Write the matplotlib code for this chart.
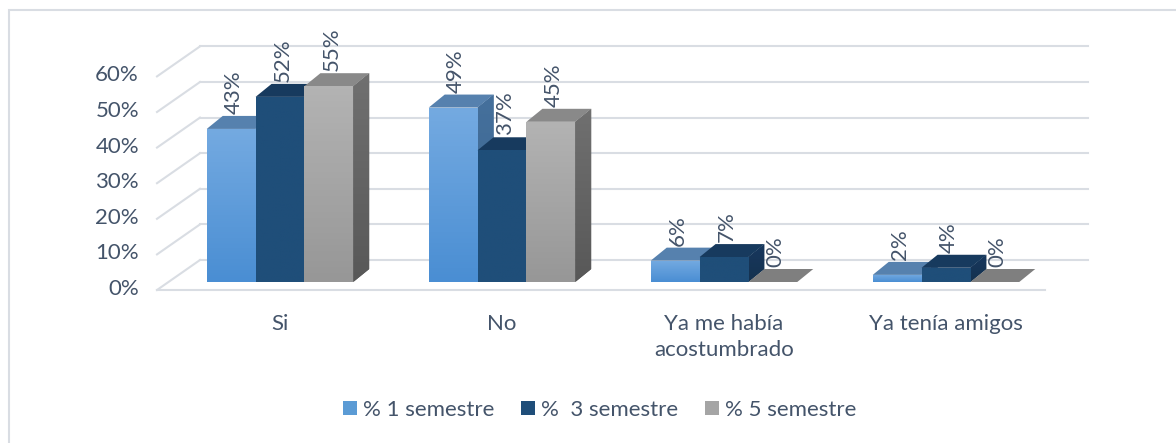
import numpy as np
import matplotlib.pyplot as plt
from matplotlib.patches import Polygon, Rectangle, Patch
from matplotlib.colors import LinearSegmentedColormap

plt.rcParams['font.family'] = ['Lato', 'DejaVu Sans']

categories = ["Si", "No", "Ya me había\nacostumbrado", "Ya tenía amigos"]
series = ["% 1 semestre", "%  3 semestre", "% 5 semestre"]
sem1 = [43, 49, 6, 2]
sem3 = [52, 37, 7, 4]
sem5 = [55, 45, 0, 0]
yticks = [0, 10, 20, 30, 40, 50, 60]

values = [sem1, sem3, sem5]

# colours per series: front gradient (top, bottom), top face, side gradient
styles = [
    dict(front=("#74aae1", "#4a8ed3"), top="#5681ae", side=("#45709c", "#3b6690"), legend="#5b9bd5"),
    dict(front=("#1f4e79", "#1f4e79"), top="#173a5e", side=("#17375e", "#15324f"), legend="#1f4e79"),
    dict(front=("#b3b3b3", "#979797"), top="#898989", side=("#707070", "#585858"), legend="#a5a5a5"),
]
TXT = "#44546a"
GRID = "#d9dde3"
FS = 16

# pixel geometry (figure is 1176 x 443)
W, H = 1176, 443
X0, Y0 = 280, 282          # centre of first group / baseline of bars, pixels
SX, SY = 222, 3.56         # pixels per category / per percent

def off(px, py):
    return px / SX, py / SY

bdx, bdy = off(16, 13)     # depth of a bar
fdx, fdy = off(-12, -8)    # front edge of the floor
kdx, kdy = off(31, 22)     # back wall

fig = plt.figure(figsize=(W / 100, H / 100), dpi=100)
ax = fig.add_axes([0, 0, 1, 1])

# gridlines on the back wall + slanted ones on the left
for t in yticks:
    ax.plot([-0.5 + kdx, 3.5 + kdx], [t + kdy, t + kdy], color=GRID, lw=1.5, zorder=1)
    ax.plot([-0.5 + fdx, -0.5 + kdx], [t + fdy, t + kdy], color=GRID, lw=1.5, zorder=1)
    ax.annotate(f"{t}%", (-0.5 + fdx, t + fdy), xytext=(-18, 1), textcoords="offset pixels",
                ha="right", va="center", fontsize=FS, color=TXT)
ax.plot([-0.5 + fdx, 3.5 + fdx], [fdy, fdy], color=GRID, lw=1.5, zorder=1)

width = 0.22
offsets = [-width, 0, width]
grad = np.linspace(0, 1, 64).reshape(-1, 1)

z = 3
for i in range(len(categories)):
    for s in range(len(series)):
        v = values[s][i]
        st = styles[s]
        x0 = i + offsets[s] - width / 2
        x1 = x0 + width
        # side face
        side = Polygon([(x1, 0), (x1 + bdx, bdy), (x1 + bdx, v + bdy), (x1, v)],
                       closed=True, facecolor=st["side"][1], edgecolor="none", zorder=z)
        ax.add_patch(side)
        if v > 0:
            cm = LinearSegmentedColormap.from_list("s", [st["side"][1], st["side"][0]])
            im = ax.imshow(grad, extent=[x1, x1 + bdx, 0, v + bdy], origin="lower",
                           cmap=cm, aspect="auto", zorder=z + 0.01)
            im.set_clip_path(side)
        # top face
        ax.add_patch(Polygon([(x0, v), (x1, v), (x1 + bdx, v + bdy), (x0 + bdx, v + bdy)],
                             closed=True, facecolor=st["top"] if v > 0 else "#7f7f7f",
                             edgecolor="none", zorder=z + 0.02))
        # front face
        bar = ax.bar(i + offsets[s], v, width, color=st["front"][1], zorder=z + 0.03)[0]
        if v > 0:
            cm = LinearSegmentedColormap.from_list("f", [st["front"][1], st["front"][0]])
            im = ax.imshow(grad, extent=[x0, x1, 0, v], origin="lower",
                           cmap=cm, aspect="auto", zorder=z + 0.04)
            im.set_clip_path(bar)
        # data label
        ax.annotate(f"{v}%", (i + offsets[s], v), xytext=(3, 15), textcoords="offset pixels",
                    rotation=90, ha="center", va="bottom", fontsize=FS, color=TXT, zorder=20)
        z += 0.1

for i, c in enumerate(categories):
    ax.annotate(c, (i, 0), xytext=(0, -32), textcoords="offset pixels",
                ha="center", va="top", fontsize=FS, color=TXT, linespacing=1.4)

ax.set_xlim(-X0 / SX, (W - X0) / SX)
ax.set_ylim(-(H - Y0) / SY, Y0 / SY)
ax.axis("off")

handles = [Patch(facecolor=st["legend"], edgecolor="none") for st in styles]
fig.legend(handles, series, loc="center", bbox_to_anchor=(600 / W, 1 - 410 / H), ncol=3,
           frameon=False, fontsize=FS, labelcolor=TXT, handlelength=0.6, handleheight=0.6,
           handletextpad=0.3, columnspacing=1.2)

fig.add_artist(Rectangle((9 / W, -0.1), 1.2, 1.1 - 10 / H, transform=fig.transFigure,
                         fill=False, edgecolor=GRID, lw=1.5))

fig.savefig("out.png", dpi=100)
